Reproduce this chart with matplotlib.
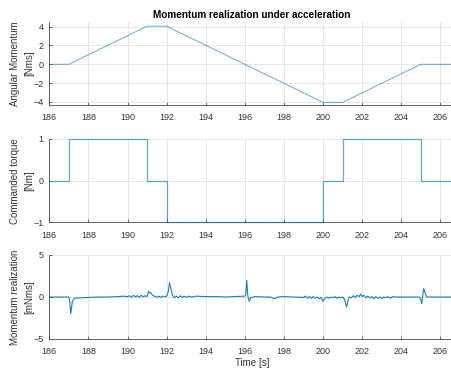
import matplotlib.pyplot as plt
import matplotlib as mpl

mpl.rcParams['font.family'] = ['Liberation Sans', 'DejaVu Sans']

# momentum profile [Nms]
t_mom = [186.0, 187.0, 191.0, 192.0, 200.0, 201.0, 205.0, 206.9]
h_mom = [0.0, 0.0, 4.05, 4.05, -4.05, -4.05, 0.0, 0.0]

# commanded torque [Nm], piecewise constant
t_trq = [186.0, 187.0, 191.0, 192.0, 200.0, 201.0, 205.0, 206.9]
u_trq = [0, 1, 0, -1, 0, 1, 0, 0]

# momentum realization error [mNms]
t_err = [186.0, 186.9, 187.0, 187.05, 187.1, 187.18, 187.3, 187.6, 188.0, 188.5,
         189.0, 189.5, 189.8, 190.0, 190.1, 190.2, 190.3, 190.4, 190.5, 190.6,
         190.7, 190.8, 190.9, 191.0, 191.08, 191.15, 191.2, 191.3, 191.4, 191.5,
         191.6, 191.7, 191.8, 191.9, 192.0, 192.08, 192.15, 192.22, 192.3, 192.4,
         192.5, 192.6, 192.7, 192.8, 192.9, 193.0, 193.1, 193.3, 193.5, 194.0,
         194.5, 195.0, 195.5, 196.0, 196.05, 196.1, 196.15, 196.22, 196.3, 196.5,
         197.0, 197.3, 197.5, 197.7, 198.0, 198.5, 199.0, 199.1, 199.2, 199.3,
         199.4, 199.5, 199.6, 199.7, 199.8, 199.9, 200.0, 200.1, 200.2, 200.3,
         200.4, 200.5, 200.6, 200.7, 200.8, 200.9, 201.0, 201.1, 201.2, 201.28,
         201.35, 201.45, 201.55, 201.65, 201.75, 201.85, 201.92, 202.0, 202.1, 202.2,
         202.3, 202.4, 202.5, 202.6, 202.7, 202.8, 202.9, 203.0, 203.1, 203.2,
         203.3, 203.45, 203.55, 203.7, 204.0, 204.5, 204.9, 205.0, 205.05, 205.1,
         205.15, 205.22, 205.3, 206.9]
e_err = [0.0, 0.0, 0.0, -0.6, -2.0, -0.5, -0.15, -0.1, -0.05, 0.0,
         0.0, 0.05, 0.1, 0.05, 0.15, -0.05, 0.2, 0.0, 0.15, -0.05,
         0.2, 0.0, 0.15, 0.05, 0.7, 0.45, 0.5, 0.15, 0.1, -0.05,
         0.1, -0.05, 0.1, 0.0, 0.1, 0.6, 1.7, 1.0, 0.2, -0.1,
         0.1, -0.1, 0.15, -0.05, 0.1, -0.05, 0.1, 0.0, 0.1, 0.05,
         0.05, 0.0, 0.05, 0.1, 0.3, 2.0, 0.2, -0.5, -0.1, 0.05,
         0.0, 0.0, -0.2, 0.0, 0.05, 0.0, -0.05, 0.1, -0.15, 0.05,
         -0.15, 0.05, -0.15, 0.0, -0.2, -0.05, -0.5, -0.15, 0.0, -0.15,
         0.0, -0.1, 0.05, -0.15, 0.0, -0.1, 0.0, -0.3, -1.2, -0.4,
         0.0, -0.1, 0.15, -0.05, 0.2, 0.05, 0.35, 0.05, 0.2, -0.1,
         0.1, -0.1, 0.05, -0.2, 0.05, -0.15, 0.0, -0.2, 0.0, -0.1,
         0.05, -0.15, 0.05, 0.0, 0.0, 0.0, 0.0, -0.3, -0.8, 0.2,
         1.0, 0.5, 0.0, 0.0]

xticks = [186, 188, 190, 192, 194, 196, 198, 200, 202, 204, 206]
blue = '#0072BD'
axcol = '#4d4d4d'
txtcol = '#333333'

fig = plt.figure(figsize=(4.52, 3.69), dpi=100)
W, H = 452.0, 369.0
x0, x1 = 49.3, 455.0


def make_axes(top, bottom):
    return fig.add_axes([x0 / W, (H - bottom) / H, (x1 - x0) / W, (bottom - top) / H])


ax1 = make_axes(22.0, 104.7)
ax2 = make_axes(139.0, 222.3)
ax3 = make_axes(255.0, 339.0)

ax1.plot(t_mom, h_mom, color=blue, lw=0.7, alpha=0.6)
ax2.plot(t_trq, u_trq, color=blue, lw=0.9, alpha=0.6, drawstyle='steps-post',
         clip_on=False, zorder=3)
ax3.plot(t_err, e_err, color=blue, lw=0.8, alpha=0.9)

ax1.set_ylim(-4.3, 4.5)
ax1.set_yticks([-4, -2, 0, 2, 4])
ax2.set_ylim(-1, 1)
ax2.set_yticks([-1, 0, 1])
ax3.set_ylim(-5, 5)
ax3.set_yticks([-5, 0, 5])

ylabels = ['Angular Momentum\n[Nms]', 'Commanded torque\n[Nm]', 'Momentum realization\n[mNms]']
for ax, lab in zip((ax1, ax2, ax3), ylabels):
    ax.set_ylabel(lab, fontsize=7, color=txtcol, linespacing=1.5)
    ax.yaxis.set_label_coords(-0.037, 0.5)

ax3.set_xlabel('Time [s]', fontsize=7, color=txtcol, labelpad=1.2)
ax1.set_title('Momentum realization under acceleration', fontsize=7.2, fontweight='bold', pad=3)

for ax in (ax1, ax2, ax3):
    ax.set_xlim(186, 206.75)
    ax.set_xticks(xticks)
    ax.grid(True, color='#e2e2e2', lw=0.6)
    ax.set_axisbelow(True)
    for s in ('top', 'right'):
        ax.spines[s].set_visible(False)
    for s in ('left', 'bottom'):
        ax.spines[s].set_color(axcol)
        ax.spines[s].set_linewidth(0.6)
    ax.tick_params(direction='in', length=2.5, width=0.6, color=axcol,
                   labelsize=6.5, labelcolor=txtcol)
    ax.tick_params(axis='x', pad=6)
    ax.tick_params(axis='y', pad=4)

fig.savefig('out.png', dpi=100)
